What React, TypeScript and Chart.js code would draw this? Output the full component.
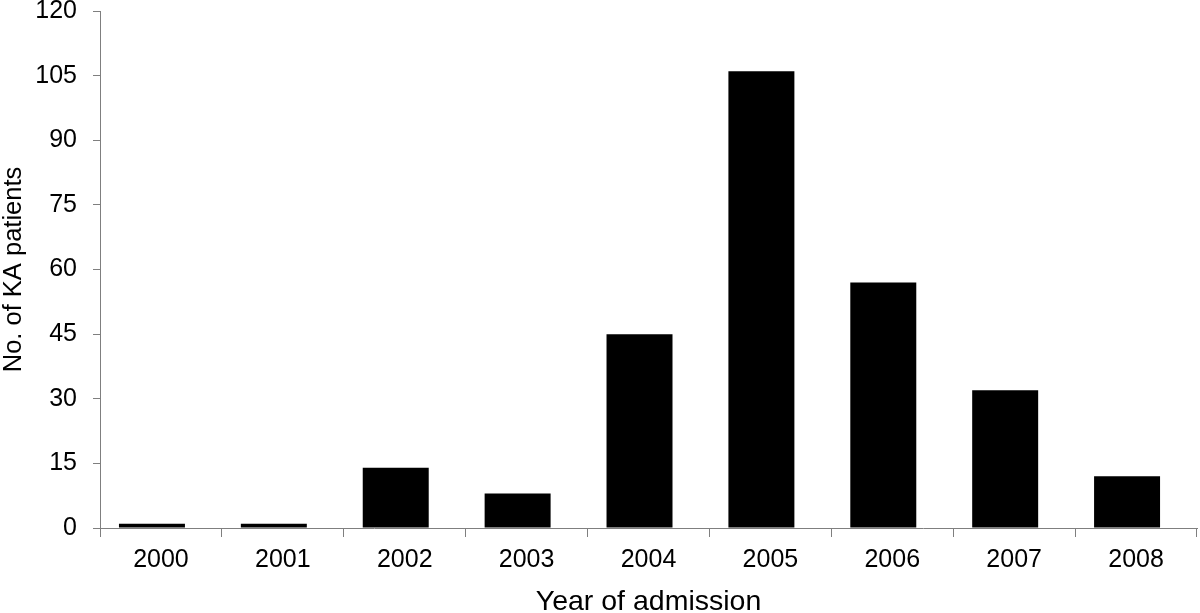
import React, { useEffect, useRef } from "react";
import { Chart, registerables } from "chart.js";

Chart.register(...registerables);

const years = ["2000", "2001", "2002", "2003", "2004", "2005", "2006", "2007", "2008"];
const patients = [1, 1, 14, 8, 45, 106, 57, 32, 12];
const spacer = [0, 0, 0, 0, 0, 0, 0, 0, 0];
const yTicks = [0, 15, 30, 45, 60, 75, 90, 105, 120];

const FONT = "'Liberation Sans', Arial, sans-serif";
const AXIS = "#7f7f7f";

export default function App() {
  const ref = useRef<HTMLCanvasElement | null>(null);

  useEffect(() => {
    if (!ref.current) return;
    const chart = new Chart(ref.current, {
      type: "bar",
      data: {
        labels: years,
        datasets: [
          {
            data: patients,
            backgroundColor: "#000000",
            borderWidth: 0,
            categoryPercentage: 0.295,
            barPercentage: 3.67,
          },
          {
            data: spacer,
            backgroundColor: "rgba(0,0,0,0)",
            borderWidth: 0,
            categoryPercentage: 0.295,
            barPercentage: 3.67,
          },
        ],
      },
      options: {
        animation: false,
        responsive: false,
        maintainAspectRatio: false,
        layout: { padding: { top: 11, right: 3, left: 0, bottom: 0 } },
        plugins: { legend: { display: false }, tooltip: { enabled: false } },
        scales: {
          x: {
            type: "category",
            grid: {
              offset: true,
              drawOnChartArea: false,
              drawTicks: true,
              tickLength: 9,
              color: AXIS,
            },
            border: { color: AXIS, width: 1 },
            ticks: { color: "#000", font: { family: FONT, size: 25 }, padding: 8, maxRotation: 0 },
            title: {
              display: true,
              text: "Year of admission",
              color: "#000",
              font: { family: FONT, size: 28.5 },
              padding: { top: 0, bottom: -6 },
            },
            afterFit: (axis: any) => {
              axis.height = 85;
              axis.paddingLeft = 0;
              axis.paddingRight = 0;
            },
          },
          y: {
            min: 0,
            max: 120,
            afterBuildTicks: (axis: any) => {
              axis.ticks = yTicks.map((v) => ({ value: v }));
            },
            grid: {
              drawOnChartArea: false,
              drawTicks: true,
              tickLength: 7,
              color: AXIS,
            },
            border: { color: AXIS, width: 1 },
            ticks: { color: "#000", font: { family: FONT, size: 25 }, padding: 16 },
            title: {
              display: true,
              text: "No. of KA patients",
              color: "#000",
              font: { family: FONT, size: 25.5 },
              padding: { top: -1, bottom: 0 },
            },
            afterFit: (axis: any) => {
              axis.width = 100;
              axis.paddingTop = 0;
              axis.paddingBottom = 0;
            },
          },
        },
      },
    });
    return () => chart.destroy();
  }, []);

  return (
    <div style={{ position: "fixed", left: 0, top: 0, width: 1200, height: 613, background: "#fff" }}>
      <canvas ref={ref} width={1200} height={613} style={{ display: "block", width: 1200, height: 613 }} />
    </div>
  );
}
